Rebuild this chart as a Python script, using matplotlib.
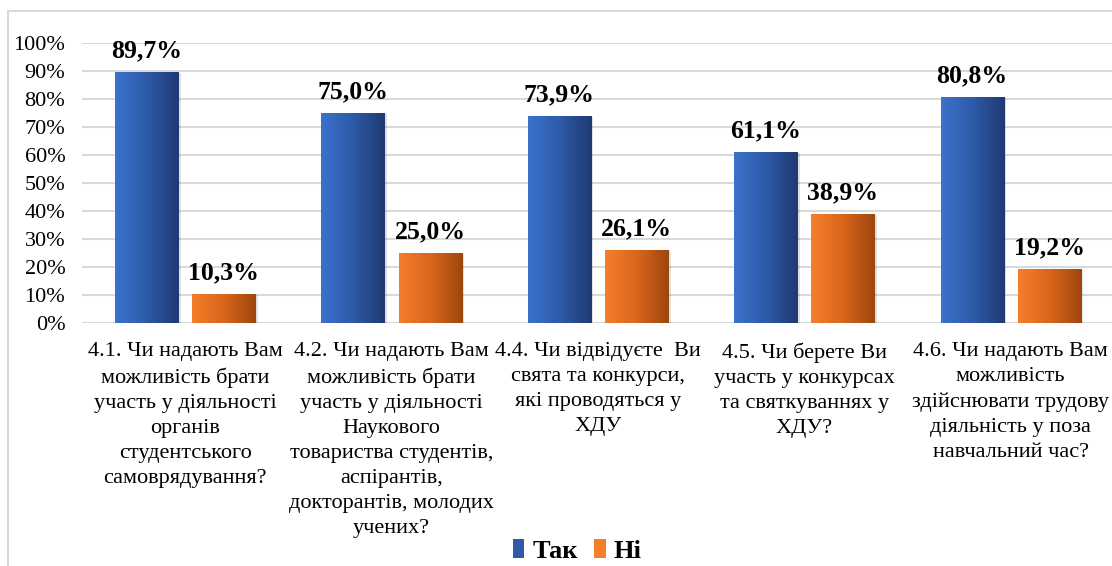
import numpy as np
import matplotlib
matplotlib.use("Agg")
import matplotlib.pyplot as plt
from matplotlib.colors import LinearSegmentedColormap
from matplotlib.patches import Patch, Rectangle

plt.rcParams['font.family'] = ['Liberation Serif', 'DejaVu Serif']

categories = [
    "4.1. Чи надають Вам\nможливість брати\nучасть у діяльності\nорганів\nстудентського\nсамоврядування?",
    "4.2. Чи надають Вам\nможливість брати\nучасть у діяльності\nНаукового\nтовариства студентів,\nаспірантів,\nдокторантів, молодих\nучених?",
    "4.4. Чи відвідуєте  Ви\nсвята та конкурси,\nякі проводяться у\nХДУ",
    "4.5. Чи берете Ви\nучасть у конкурсах\nта святкуваннях у\nХДУ?",
    "4.6. Чи надають Вам\nможливість\nздійснювати трудову\nдіяльність у поза\nнавчальний час?",
]
tak = [89.7, 75.0, 73.9, 61.1, 80.8]
ni = [10.3, 25.0, 26.1, 38.9, 19.2]
series_names = ["Так", "Ні"]
yticks = [0, 10, 20, 30, 40, 50, 60, 70, 80, 90, 100]

# gradient colours (left -> right)
blue_grad = ["#3B72CC", "#2E5AA8", "#1F3B73"]
orange_grad = ["#F47E2A", "#D9661C", "#9E470F"]

fig = plt.figure(figsize=(11.12, 5.66), dpi=100)
ax = fig.add_axes([0.0737, 0.4293, 0.928, 0.4947])

# outer chart frame
fig.patches.append(Rectangle((8 / 1112, -0.01), 1.1, 1 - 11 / 566 + 0.01,
                             transform=fig.transFigure, fill=False,
                             edgecolor="#D9D9D9", lw=1.5, zorder=0))

x = np.arange(len(categories))
w = 0.306
off = 0.187


def gradient_bars(xs, vals, grad):
    cmap = LinearSegmentedColormap.from_list("g", grad)
    bars = ax.bar(xs, vals, width=w, color=grad[1], zorder=3)
    grad_img = np.linspace(0, 1, 64).reshape(1, -1)
    for b in bars:
        # soft shadow
        ax.add_patch(Rectangle((b.get_x() + 0.012, 0), b.get_width(), b.get_height() - 0.4,
                               facecolor="#000000", alpha=0.12, lw=0, zorder=2))
        im = ax.imshow(grad_img, cmap=cmap, aspect="auto", zorder=4,
                       extent=[b.get_x(), b.get_x() + b.get_width(), 0, b.get_height()])
        im.set_clip_path(b)
    return bars


b1 = gradient_bars(x - off, tak, blue_grad)
b2 = gradient_bars(x + off, ni, orange_grad)

for bars, vals in ((b1, tak), (b2, ni)):
    for b, v in zip(bars, vals):
        ax.annotate(f"{v:.1f}%".replace(".", ","),
                    (b.get_x() + b.get_width() / 2, v),
                    xytext=(0, 7), textcoords="offset points",
                    ha="center", va="bottom", fontsize=18.5, fontweight="bold", zorder=5)

ax.set_xlim(-0.5, len(categories) - 0.5)
ax.set_ylim(0, 100)
ax.set_yticks(yticks)
ax.set_yticklabels([f"{t}%" for t in yticks], fontsize=16)
ax.set_xticks(x)
ax.set_xticklabels(categories, fontsize=16, linespacing=1.42)
ax.tick_params(axis="both", length=0)
ax.tick_params(axis="y", pad=12)
ax.tick_params(axis="x", pad=14)
ax.grid(axis="y", color="#D9D9D9", lw=1.5, zorder=0)
ax.set_axisbelow(True)
for s in ax.spines.values():
    s.set_visible(False)
ax.set_xlim(-0.5, len(categories) - 0.5)
ax.set_ylim(0, 100)

handles = [Patch(facecolor=blue_grad[1], label=series_names[0]),
           Patch(facecolor=orange_grad[0], label=series_names[1])]
fig.legend(handles=handles, loc="center", bbox_to_anchor=(577 / 1112, 1 - 551 / 566),
           ncol=2, frameon=False, prop={"weight": "bold", "size": 19},
           handlelength=0.45, handleheight=0.7, handletextpad=0.3, columnspacing=0.6)

fig.savefig("out.png", dpi=100)
